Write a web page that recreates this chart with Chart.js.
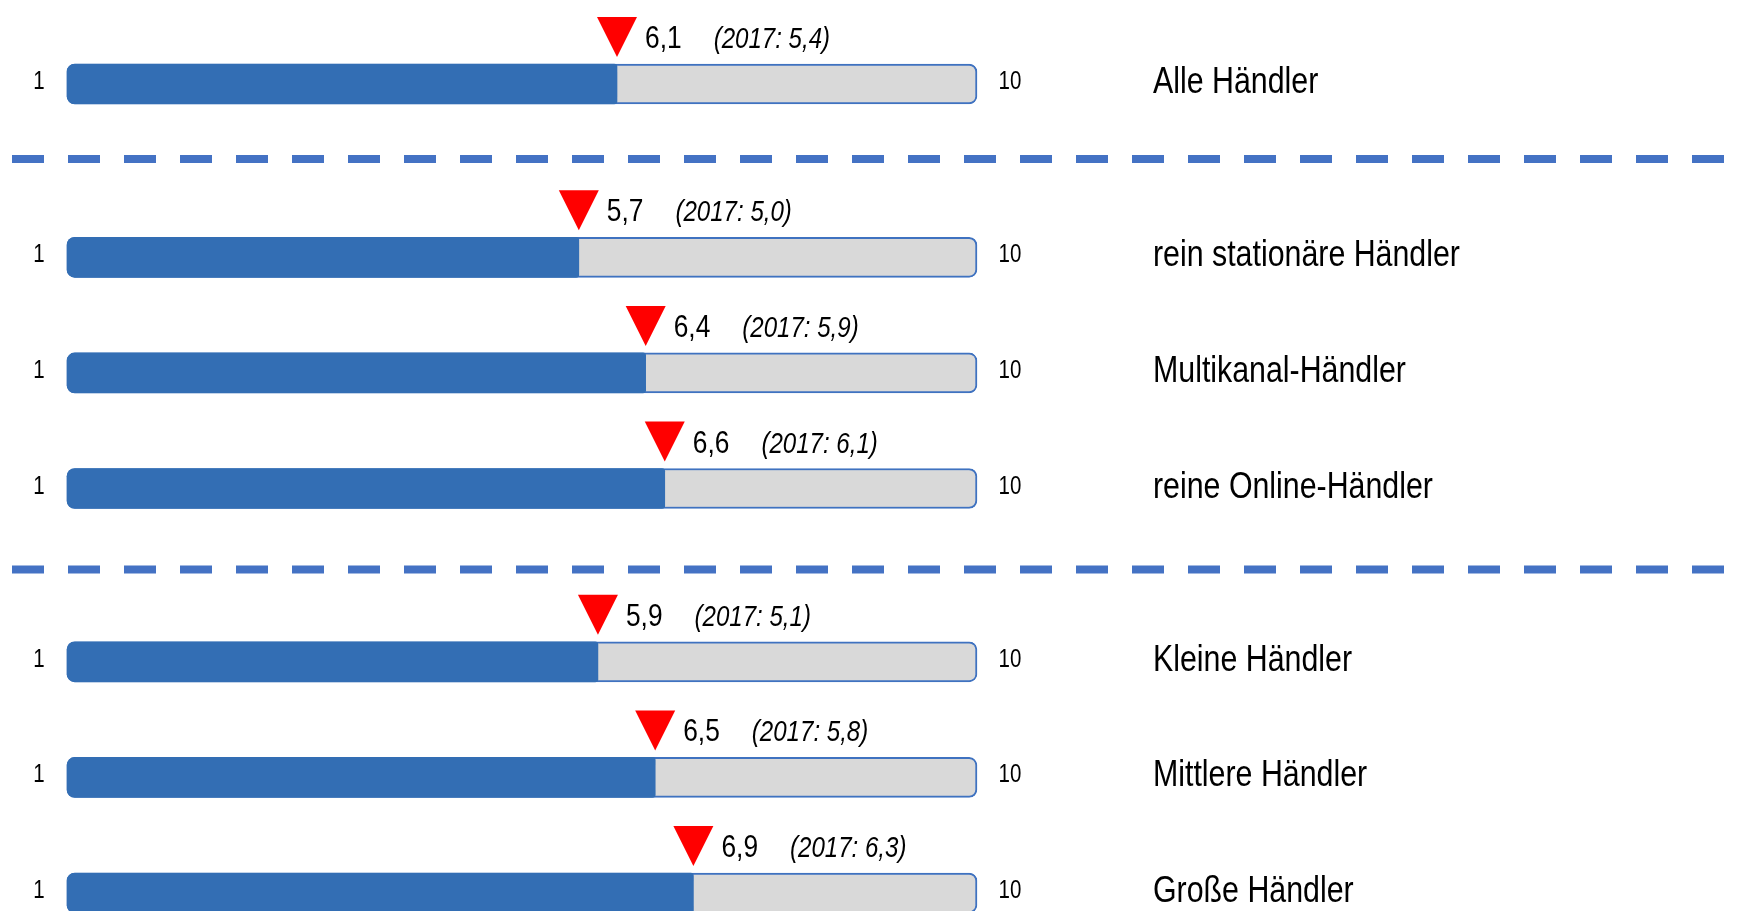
<!DOCTYPE html>
<html>
<head>
<meta charset="utf-8">
<script src="https://cdn.jsdelivr.net/npm/chart.js@4"></script>
<style>
  html, body { margin: 0; padding: 0; background: #fff; overflow: hidden; }
  #wrap { width: 1744px; height: 911px; }
</style>
</head>
<body>
<div id="wrap"><canvas id="scoreChart" width="1744" height="911"></canvas></div>
<script>
const categories = ["Alle Händler", "rein stationäre Händler", "Multikanal-Händler", "reine Online-Händler", "Kleine Händler", "Mittlere Händler", "Große Händler"];
const scores2018 = [6.1, 5.7, 6.4, 6.6, 5.9, 6.5, 6.9];
const scores2017 = [5.4, 5.0, 5.9, 6.1, 5.1, 5.8, 6.3];
const scaleEnds = ["1", "10"];
const compareYear = "2017";

// layout: which slot of the y axis each row sits in (gaps hold the dashed separators)
const rowSlot = [0, 3, 5, 7, 10, 12, 14];
const SLOT_COUNT = 15;
const separatorAt = [1.3, 8.4];
const AXIS_MIN = 0.34, AXIS_MAX = 9.87;

const FONT = "'Liberation Sans', Arial, sans-serif";

const slotLabels = Array(SLOT_COUNT).fill("");
const fillData = Array(SLOT_COUNT).fill(null);
const trackData = Array(SLOT_COUNT).fill(null);
categories.forEach((c, i) => {
  slotLabels[rowSlot[i]] = c;
  fillData[rowSlot[i]] = [AXIS_MIN, scores2018[i]];
  trackData[rowSlot[i]] = [AXIS_MIN, AXIS_MAX];
});

const fmt = v => v.toFixed(1).replace(".", ",");

// narrow look: squeeze text horizontally
function drawText(ctx, text, x, y, font, align, squeeze) {
  ctx.save();
  ctx.font = font;
  const w = ctx.measureText(text).width * squeeze;
  const left = align === "center" ? x - w / 2 : align === "right" ? x - w : x;
  ctx.translate(left, y);
  ctx.scale(squeeze, 1);
  ctx.textAlign = "left";
  ctx.textBaseline = "alphabetic";
  ctx.fillStyle = "#000";
  ctx.fillText(text, 0, 0);
  ctx.restore();
  return w;
}

const decorations = {
  id: "decorations",
  afterDatasetsDraw(chart) {
    const { ctx, chartArea, scales } = chart;
    const xs = scales.x, ys = scales.y;

    // dashed separators
    ctx.save();
    ctx.strokeStyle = "#4472C4";
    ctx.lineWidth = 8;
    ctx.setLineDash([32, 24]);
    separatorAt.forEach(s => {
      const y = ys.getPixelForValue(s);
      ctx.beginPath();
      ctx.moveTo(12, y);
      ctx.lineTo(chart.width, y);
      ctx.stroke();
    });
    ctx.restore();

    categories.forEach((cat, i) => {
      const yc = ys.getPixelForValue(rowSlot[i]);
      drawText(ctx, scaleEnds[0], chartArea.left - 28, yc + 5, "25px " + FONT, "center", 0.82);
      drawText(ctx, scaleEnds[1], chartArea.right + 33, yc + 5, "25px " + FONT, "center", 0.82);
      drawText(ctx, cat, chartArea.right + 176, yc + 9, "37px " + FONT, "left", 0.82);

      // marker triangle pointing at the score
      const xv = xs.getPixelForValue(scores2018[i]);
      const top = yc - 67;
      ctx.save();
      ctx.fillStyle = "#FF0000";
      ctx.beginPath();
      ctx.moveTo(xv - 20, top);
      ctx.lineTo(xv + 20, top);
      ctx.lineTo(xv, top + 40);
      ctx.closePath();
      ctx.fill();
      ctx.restore();

      const w = drawText(ctx, fmt(scores2018[i]), xv + 28, yc - 36, "31px " + FONT, "left", 0.85);
      drawText(ctx, "(" + compareYear + ": " + fmt(scores2017[i]) + ")", xv + 28 + w + 32, yc - 36, "italic 29px " + FONT, "left", 0.83);
    });
  }
};

new Chart(document.getElementById("scoreChart").getContext("2d"), {
  type: "bar",
  data: {
    labels: slotLabels,
    datasets: [
      {
        label: "2018",
        data: fillData,
        backgroundColor: "#336EB4",
        borderWidth: 0,
        borderSkipped: false,
        borderRadius: { topLeft: 8, bottomLeft: 8, topRight: 3, bottomRight: 3 },
        clip: false
      },
      {
        label: "Skala",
        data: trackData,
        backgroundColor: "#D9D9D9",
        borderColor: "#3F72C0",
        borderWidth: 2,
        borderSkipped: false,
        borderRadius: 8,
        clip: false
      }
    ]
  },
  options: {
    indexAxis: "y",
    responsive: false,
    animation: false,
    devicePixelRatio: 1,
    grouped: false,
    barThickness: 40,
    layout: { padding: { left: 67, right: 767, top: 84, bottom: 18 } },
    scales: {
      x: { type: "linear", min: AXIS_MIN, max: AXIS_MAX, display: false },
      y: { type: "category", offset: false, display: false }
    },
    plugins: {
      legend: { display: false },
      tooltip: { enabled: false }
    }
  },
  plugins: [decorations]
});
</script>
</body>
</html>
